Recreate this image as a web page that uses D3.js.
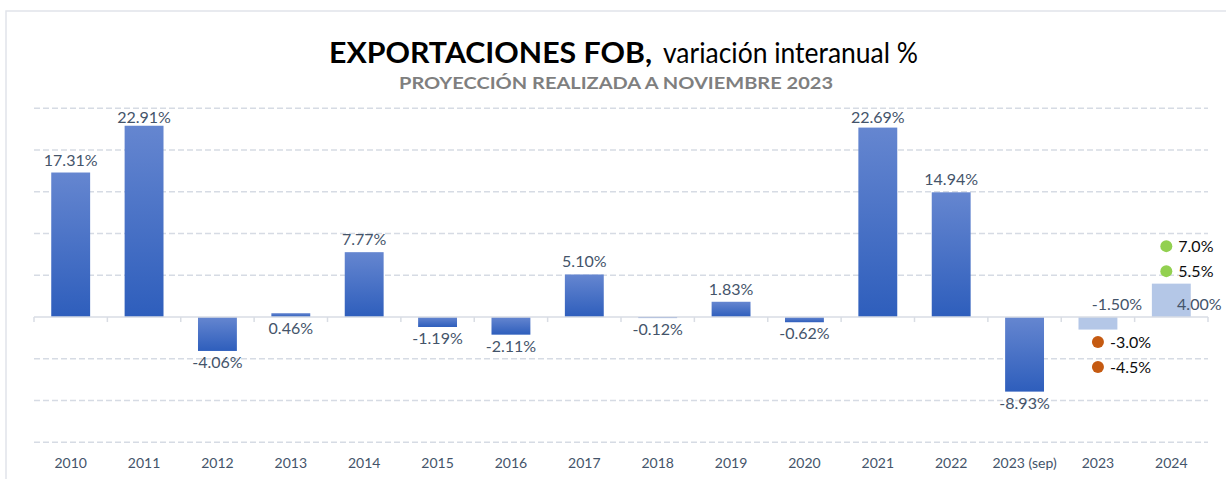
<!DOCTYPE html>
<html>
<head>
<meta charset="utf-8">
<script src="https://cdn.jsdelivr.net/npm/d3@7"></script>
<style>
  body { margin: 0; background: #fff; }
  svg { display: block; font-family: Lato, "Open Sans", sans-serif; }
</style>
</head>
<body>
<div id="chart"></div>
<script>
// categories and values (variación interanual %)
var years = ["2010", "2011", "2012", "2013", "2014", "2015", "2016", "2017",
             "2018", "2019", "2020", "2021", "2022", "2023 (sep)", "2023", "2024"];
var values = [17.31, 22.91, -4.06, 0.46, 7.77, -1.19, -2.11, 5.10,
              -0.12, 1.83, -0.62, 22.69, 14.94, -8.93, -1.50, 4.00];
// last two are projections (lighter bars)
var projected = ["2023", "2024"];
// scenario markers
var lowScenario = { year: "2023", values: [-3.0, -4.5] };
var highScenario = { year: "2024", values: [5.5, 7.0] };
var yTicks = [-15, -10, -5, 0, 5, 10, 15, 20, 25];

var width = 1226, height = 479;
var slate = "#44546A";

// plain hyphen for negatives, like the original
var fmt = d3.formatLocale({ decimal: ".", thousands: ",", grouping: [3], currency: ["", ""], minus: "-" });
var fmt2 = fmt.format(".2f"), fmt1 = fmt.format(".1f");

var svg = d3.select("#chart").append("svg")
  .attr("width", width)
  .attr("height", height);

// gradient for the real bars
var defs = svg.append("defs");
var grad = defs.append("linearGradient")
  .attr("id", "barGrad")
  .attr("x1", 0).attr("y1", 0).attr("x2", 0).attr("y2", 1);
grad.append("stop").attr("offset", "0%").attr("stop-color", "#6586D0");
grad.append("stop").attr("offset", "100%").attr("stop-color", "#2E5EBC");

// chart border (only top and left visible in the frame)
svg.append("rect")
  .attr("x", 6).attr("y", 11)
  .attr("width", width + 10).attr("height", height + 10)
  .attr("fill", "none")
  .attr("stroke", "#E1E4EA")
  .attr("stroke-width", 1.5);

// title
var title = svg.append("text")
  .attr("x", 329).attr("y", 63)
  .attr("fill", "#000");
title.append("tspan")
  .attr("font-weight", "bold").attr("font-size", 28)
  .attr("textLength", 323).attr("lengthAdjust", "spacingAndGlyphs")
  .text("EXPORTACIONES FOB,");
title.append("tspan")
  .attr("x", 663)
  .attr("font-size", 28)
  .attr("textLength", 255).attr("lengthAdjust", "spacingAndGlyphs")
  .text("variación interanual %");

svg.append("text")
  .attr("x", 399).attr("y", 89)
  .attr("font-weight", "bold").attr("font-size", 17)
  .attr("fill", "#7F7F7F")
  .attr("textLength", 434).attr("lengthAdjust", "spacingAndGlyphs")
  .text("PROYECCIÓN REALIZADA A NOVIEMBRE 2023");

// scales
var x = d3.scaleBand()
  .domain(years)
  .range([34, 1208])
  .paddingInner(0.47)
  .paddingOuter(0.235);

var y = d3.scaleLinear()
  .domain([-15, 25])
  .range([442.3, 108.3]);

// gridlines
svg.append("g")
  .selectAll("line")
  .data(yTicks.filter(function(d) { return d !== 0; }))
  .enter()
  .append("line")
  .attr("x1", 34).attr("x2", 1208)
  .attr("y1", function(d) { return y(d); })
  .attr("y2", function(d) { return y(d); })
  .attr("stroke", "#D6DBE4")
  .attr("stroke-width", 1.4)
  .attr("stroke-dasharray", "6,3");

// bars
var data = years.map(function(d, i) { return { year: d, value: values[i] }; });

svg.append("g")
  .selectAll("rect")
  .data(data)
  .enter()
  .append("rect")
  .attr("x", function(d) { return x(d.year); })
  .attr("width", x.bandwidth())
  .attr("y", function(d) { return y(Math.max(0, d.value)); })
  .attr("height", function(d) { return Math.abs(y(d.value) - y(0)); })
  .attr("fill", function(d) {
    return projected.indexOf(d.year) >= 0 ? "#B4C7E7" : "url(#barGrad)";
  });

// zero axis with tick marks at category boundaries
var axis = svg.append("g");
axis.append("line")
  .attr("x1", 34).attr("x2", 1208)
  .attr("y1", y(0)).attr("y2", y(0))
  .attr("stroke", "#D9DDE4")
  .attr("stroke-width", 1.5);
var step = x.step();
axis.selectAll(".tk")
  .data(d3.range(years.length + 1))
  .enter()
  .append("line")
  .attr("class", "tk")
  .attr("x1", function(i) { return 34 + i * step; })
  .attr("x2", function(i) { return 34 + i * step; })
  .attr("y1", y(0)).attr("y2", y(0) + 5)
  .attr("stroke", "#D9DDE4")
  .attr("stroke-width", 1.5);

// category labels
svg.append("g")
  .selectAll("text")
  .data(years)
  .enter()
  .append("text")
  .attr("x", function(d) { return x(d) + x.bandwidth() / 2; })
  .attr("y", 468)
  .attr("text-anchor", "middle")
  .attr("font-size", 14)
  .attr("fill", slate)
  .text(function(d) { return d; });

// value labels
var forecastDx = { "2023": 19, "2024": 28 };
svg.append("g")
  .selectAll("text")
  .data(data)
  .enter()
  .append("text")
  .attr("x", function(d) {
    var cx = x(d.year) + x.bandwidth() / 2;
    return projected.indexOf(d.year) >= 0 ? cx + forecastDx[d.year] : cx;
  })
  .attr("y", function(d) {
    if (projected.indexOf(d.year) >= 0) return y(0) - 7;
    if (d.value >= 1) return Math.max(y(d.value) - 7, 123);
    return y(Math.min(d.value, 0)) + 17;
  })
  .attr("text-anchor", "middle")
  .attr("font-size", 16)
  .attr("fill", slate)
  .text(function(d) { return fmt2(d.value) + "%"; });

// scenario markers: first dot at its value, the next stacked beside it
function drawScenario(s, color, dx, dir) {
  var cx = x(s.year) + x.bandwidth() / 2 + dx;
  var g = svg.append("g");
  var base = y(s.values[0]);
  var pts = s.values.map(function(v, i) { return { v: v, cy: base + dir * i * 25 }; });
  g.selectAll("circle")
    .data(pts)
    .enter()
    .append("circle")
    .attr("cx", cx)
    .attr("cy", function(d) { return d.cy; })
    .attr("r", 6)
    .attr("fill", color);
  g.selectAll("text")
    .data(pts)
    .enter()
    .append("text")
    .attr("x", cx + 12)
    .attr("y", function(d) { return d.cy + 6; })
    .attr("font-size", 16)
    .attr("fill", "#0D0D0D")
    .text(function(d) { return fmt1(d.v) + "%"; });
}
drawScenario(lowScenario, "#C55A11", 0, 1);
drawScenario(highScenario, "#92D050", -5, -1);
</script>
</body>
</html>
